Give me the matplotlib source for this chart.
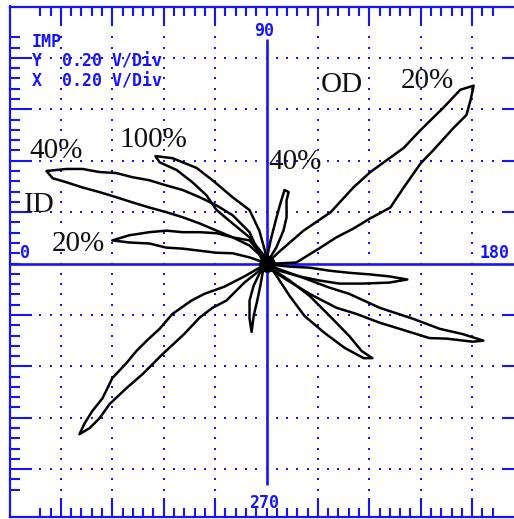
import numpy as np
import matplotlib
matplotlib.use("Agg")
import matplotlib.pyplot as plt

# ---- data (in screen divisions, 0.20 V/Div) ----
# OD 20% loop, upper-right lobe
od20_a_x = [0.02, 0.27, 0.72, 1.25, 1.69, 2.02, 2.67, 3.00, 3.44, 3.77, 4.03, 3.97, 3.89, 3.64, 3.25,
            3.00, 2.67, 2.41, 2.02, 1.69, 1.36, 1.05, 0.58, 0.16]
od20_a_y = [0.02, 0.25, 0.64, 1.00, 1.48, 1.78, 2.25, 2.60, 3.03, 3.38, 3.46, 3.18, 2.89, 2.64, 2.21,
            1.95, 1.48, 1.09, 0.88, 0.68, 0.51, 0.31, 0.02, 0.00]
# OD 20% loop, lower-left lobe
od20_b_x = [-0.10, -0.43, -0.82, -1.21, -1.46, -1.83, -2.08, -2.33, -2.53, -2.72, -3.00, -3.19, -3.39,
            -3.54, -3.64, -3.44, -3.25, -3.05, -2.72, -2.41, -2.02, -1.60, -1.30, -1.05, -0.78, -0.43, -0.14]
od20_b_y = [-0.06, -0.25, -0.45, -0.59, -0.72, -0.98, -1.27, -1.50, -1.70, -1.93, -2.23, -2.62, -2.87,
            -3.11, -3.32, -3.20, -3.01, -2.73, -2.42, -2.15, -1.76, -1.37, -1.05, -0.86, -0.72, -0.37, -0.14]
# ID 40% loop, upper-left lobe
id40_a_x = [-0.10, -0.33, -0.66, -0.97, -1.30, -1.63, -1.95, -2.28, -2.61, -2.92, -3.25, -3.58, -3.89,
            -4.28, -4.16, -3.89, -3.58, -3.25, -2.92, -2.61, -2.28, -1.95, -1.63, -1.30, -0.97, -0.66, -0.33, -0.10]
id40_a_y = [0.10, 0.61, 0.94, 1.13, 1.29, 1.43, 1.52, 1.62, 1.68, 1.76, 1.78, 1.84, 1.84,
            1.80, 1.66, 1.58, 1.48, 1.39, 1.29, 1.19, 1.09, 1.00, 0.90, 0.78, 0.64, 0.51, 0.35, 0.14]
# ID 40% loop, lower-right lobe
id40_b_x = [0.10, 0.64, 1.23, 1.61, 2.20, 2.84, 3.37, 3.81, 4.22, 4.01, 3.50, 3.17, 2.72, 2.20, 1.75,
            1.36, 0.84, 0.35, 0.06]
id40_b_y = [-0.06, -0.25, -0.47, -0.59, -0.86, -1.07, -1.27, -1.37, -1.50, -1.52, -1.46, -1.45, -1.31,
            -1.15, -0.98, -0.86, -0.59, -0.29, -0.10]
# 100% loop, upper-left lobe
h100_a_x = [-0.02, -0.33, -0.66, -0.97, -1.17, -1.44, -1.75, -2.08, -2.16, -1.83, -1.36, -1.05, -0.66,
            -0.33, -0.14, -0.02]
h100_a_y = [0.12, 0.51, 0.78, 1.04, 1.33, 1.58, 1.82, 1.97, 2.09, 2.05, 1.86, 1.62, 1.29, 1.04, 0.64, 0.21]
# 100% loop, lower-right lobe
h100_b_x = [0.10, 0.45, 0.84, 1.23, 1.61, 1.85, 2.06, 1.89, 1.52, 1.13, 0.74, 0.45, 0.19]
h100_b_y = [-0.10, -0.33, -0.63, -1.02, -1.41, -1.70, -1.84, -1.84, -1.64, -1.35, -1.02, -0.63, -0.23]
# ID 20% loop, left lobe
id20_a_x = [-0.04, -0.33, -0.66, -0.97, -1.30, -1.63, -1.95, -2.28, -2.67, -3.00, -2.67, -2.28, -1.95,
            -1.63, -1.30, -0.97, -0.66, -0.33, -0.04]
id20_a_y = [0.10, 0.45, 0.51, 0.59, 0.61, 0.61, 0.64, 0.61, 0.55, 0.45, 0.41, 0.39, 0.31, 0.29, 0.25,
            0.21, 0.20, 0.12, 0.02]
# ID 20% loop, right lobe
id20_b_x = [0.06, 0.45, 0.84, 1.23, 1.61, 2.00, 2.39, 2.74, 2.39, 1.87, 1.42, 1.03, 0.64, 0.25]
id20_b_y = [-0.02, -0.06, -0.08, -0.14, -0.18, -0.21, -0.25, -0.31, -0.37, -0.39, -0.39, -0.33, -0.25, -0.14]
# small 40% loop, upper lobe
s40_a_x = [0.02, 0.08, 0.18, 0.27, 0.35, 0.43, 0.39, 0.39, 0.33, 0.19, 0.06]
s40_a_y = [0.16, 0.45, 0.84, 1.17, 1.43, 1.39, 1.23, 0.90, 0.64, 0.31, 0.10]
# small 40% loop, lower lobe
s40_b_x = [-0.06, -0.12, -0.18, -0.25, -0.29, -0.33, -0.33, -0.25, -0.12]
s40_b_y = [-0.10, -0.43, -0.72, -1.02, -1.33, -1.07, -0.72, -0.43, -0.16]
# null point
null_x = [0.0]
null_y = [0.0]

traces = [(od20_a_x, od20_a_y), (od20_b_x, od20_b_y), (id40_a_x, id40_a_y), (id40_b_x, id40_b_y),
          (h100_a_x, h100_a_y), (h100_b_x, h100_b_y), (id20_a_x, id20_a_y), (id20_b_x, id20_b_y),
          (s40_a_x, s40_a_y), (s40_b_x, s40_b_y)]

# labels: (text, x, y)
trace_labels = [("OD", 1.05, 3.34), ("20%", 2.61, 3.42), ("40%", -4.61, 2.05), ("100%", -2.86, 2.27),
                ("40%", 0.04, 1.84), ("ID", -4.71, 1.00), ("20%", -4.18, 0.25)]
info_lines = ["IMP", "Y  0.20 V/Div", "X  0.20 V/Div"]
angle_labels = [("90", -0.04, 4.43), ("270", -0.04, -4.75), ("180", 4.44, 0.10), ("0", -4.70, 0.10)]

BLUE = "#1414ff"
W, H = 514, 519
fig = plt.figure(figsize=(W / 100, H / 100), dpi=100)
ax = fig.add_axes([9.5 / W, 1 - 517 / H, 1.0, (517 - 6.5) / H])
ax.set_xlim(-5, 5)
ax.set_ylim(-4.93, 5)

for s in ["left", "top", "bottom", "right"]:
    ax.spines[s].set_color(BLUE)
    ax.spines[s].set_linewidth(1.6)

# ticks
minor = np.round(np.arange(-4.4, 4.41, 0.2), 2)
major = [v for v in range(-4, 5) if v != 0]
ax.set_xticks(major)
ax.set_yticks(major)
ax.set_xticks(minor, minor=True)
ax.set_yticks(minor, minor=True)
ax.tick_params(axis="x", which="major", direction="in", length=13.5, width=1.5, color=BLUE,
               top=True, bottom=True, labelbottom=False)
ax.tick_params(axis="x", which="minor", direction="in", length=6.3, width=1.5, color=BLUE,
               top=True, bottom=True)
ax.tick_params(axis="y", which="major", direction="in", length=15.5, width=1.5, color=BLUE,
               left=True, right=True, labelleft=False)
ax.tick_params(axis="y", which="minor", direction="in", length=7.0, width=1.5, color=BLUE,
               left=True, right=True)

# dotted graticule
dots = np.round(np.arange(-4.4, 4.41, 0.2), 2)
for k in major:
    ax.plot(np.full_like(dots, k), dots, ls="none", marker="s", ms=1.5, mew=0, color=BLUE)
    ax.plot(dots, np.full_like(dots, k), ls="none", marker="s", ms=1.5, mew=0, color=BLUE)

# centre axes
ax.plot([-5, 5], [0, 0], color=BLUE, lw=1.9, solid_capstyle="butt")
ax.plot([0, 0], [-4.30, 4.36], color=BLUE, lw=1.9, solid_capstyle="butt")

# traces
for tx, ty in traces:
    ax.plot(list(tx) + [tx[0]], list(ty) + [ty[0]], color="black", lw=1.8,
            solid_joinstyle="round", solid_capstyle="round")
ax.plot(null_x, null_y, marker="o", ms=11, color="black", ls="none")

# texts
for t, x, y in trace_labels:
    ax.text(x, y, t, family="Liberation Serif", fontsize=21, color="#111111", ha="left", va="baseline")

mono = dict(family="DejaVu Sans Mono", fontweight="bold", fontsize=12, color=BLUE)
for i, t in enumerate(info_lines):
    ax.text(-4.57, 4.22 - i * 0.39, t, ha="left", va="baseline", **mono)
for t, x, y in angle_labels:
    ax.text(x, y, t, ha="center", va="baseline", **mono)

fig.savefig("out.png", dpi=100)
